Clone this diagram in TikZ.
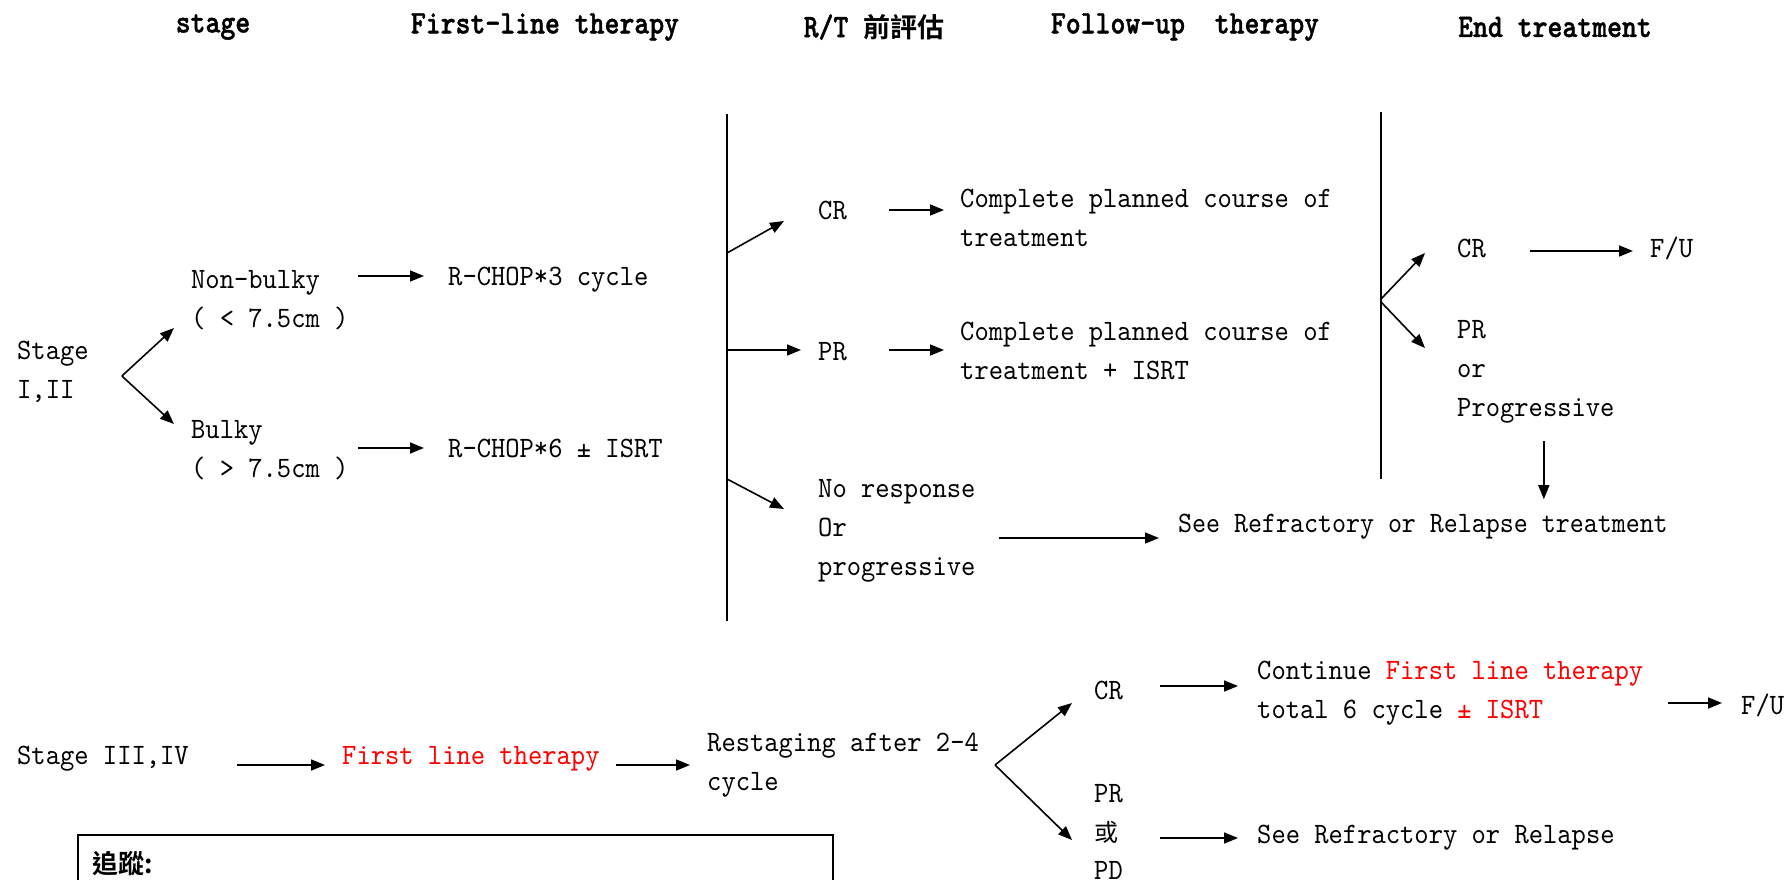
\documentclass[tikz,border=0pt]{standalone}
\usepackage{fontspec}
\usetikzlibrary{arrows.meta,calc}

% Typewriter faces for the flowchart text
\newfontfamily\bodyfont{lmmono10-regular.otf}[FakeStretch=0.92]
\newfontfamily\headfont{lmmonolt10-bold.otf}[FakeStretch=0.86,FakeBold=1.2]
\newfontfamily\cjkfont{Noto Sans CJK TC}[BoldFont={Noto Sans CJK TC Bold}]

\tikzset{
  txt/.style={anchor=west, inner sep=0pt, align=left,
              font=\bodyfont\fontsize{29.6}{38.7}\selectfont},
  head/.style={inner sep=0pt, font=\headfont\fontsize{33}{40}\selectfont},
  arr/.style={-{Triangle[length=14pt,width=11pt]}, line width=1.6pt},
  rule/.style={line width=2pt},
}

\begin{document}
\begin{tikzpicture}[x=1pt,y=-1pt]
\useasboundingbox (0,0) rectangle (1787,880);

% column headings
\node[head] (h1) at (213,27) {stage};
\node[head] (h2) at (545,27) {First-line therapy};
\node[head] (h3) at (874,27) {R/T {\cjkfont\bfseries\fontsize{27}{40}\selectfont 前評估}};
\node[head] (h4) at (1185,27) {Follow-up\ \ therapy};
\node[head] (h5) at (1555,27) {End treatment};

% ---- Stage I, II ----
\node[txt] (s12) at (17,372) {Stage\\I,II};
\node[txt] (nb)  at (191,300) {Non-bulky\\( < 7.5cm )};
\node[txt] (bk)  at (191,450) {Bulky\\( > 7.5cm )};
\node[txt] (rc3) at (448,280) {R-CHOP*3 cycle};
\node[txt] (rc6) at (448,448) {R-CHOP*6 ± ISRT};

\coordinate (b1) at ($(s12.east)+(33,4)$);
\draw[arr] (b1) -- ($(nb.west)+(-17,28)$);
\draw[arr] (b1) -- ($(bk.west)+(-17,-26)$);
\draw[arr] ($(nb.east|-rc3.west)+(9,-4)$) -- ($(rc3.west)+(-24,-4)$);
\draw[arr] ($(bk.east|-rc6.west)+(9,0)$) -- ($(rc6.west)+(-24,0)$);

% response assessment before R/T
\coordinate (v1t) at (727,114);
\coordinate (v1b) at (727,621);
\draw[rule] (v1t) -- (v1b);

\node[txt] (cr1) at (818,210) {CR};
\node[txt] (pr1) at (818,352) {PR};
\node[txt] (nr)  at (818,531) {No response\\Or\\progressive};
\node[txt] (c1)  at (960,218) {Complete planned course of\\treatment};
\node[txt] (c2)  at (960,351) {Complete planned course of\\treatment + ISRT};
\node[txt, font=\bodyfont\fontsize{29.6}{38.7}\selectfont\addfontfeatures{FakeStretch=0.9}]
     (see1) at (1178,527) {See Refractory or Relapse treatment};

\draw[arr] ($(v1t|-cr1.west)+(0,43)$) -- ($(cr1.west)+(-34,11)$);
\draw[arr] ($(v1t|-pr1.west)+(0,-2)$) -- ($(pr1.west)+(-17,-2)$);
\draw[arr] ($(v1t|-nr.west)+(0,-52)$) -- ($(nr.west)+(-34,-22)$);
\draw[arr] ($(cr1.east)+(42,0)$) -- ($(c1.west|-cr1.east)+(-16,0)$);
\draw[arr] ($(pr1.east)+(42,-2)$) -- ($(c2.west|-pr1.east)+(-16,-2)$);
\draw[arr] ($(nr.east)+(23,7)$) -- ($(see1.west|-nr.east)+(-19,7)$);

% end of treatment assessment
\coordinate (v2t) at (1381,112);
\coordinate (v2b) at (1381,479);
\draw[rule] (v2t) -- (v2b);

\node[txt] (cr2) at (1457,248) {CR};
\node[txt] (fu1) at (1650,248) {F/U};
\node[txt] (pr2) at (1457,372) {PR\\or\\Progressive};

\draw[arr] ($(v2t|-cr2.west)+(0,51)$) -- ($(cr2.west)+(-32,5)$);
\draw[arr] ($(v2t|-pr2.west)+(0,-70)$) -- ($(pr2.west)+(-32,-24)$);
\draw[arr] ($(cr2.east)+(44,3)$) -- ($(fu1.west)+(-17,3)$);
\coordinate (dd) at ($(pr2.south)+(8,18)$);
\draw[arr, shorten >=15pt] (dd) -- (dd|-see1.north);

% ---- Stage III, IV ----
\node[txt] (s34)  at (17,759) {Stage III,IV};
\node[txt, text=red] (flt) at (342,759) {First line therapy};
\node[txt] (rst)  at (707,765) {Restaging after 2-4\\cycle};
\node[txt] (cr3)  at (1094,690) {CR};
\node[txt] (cont) at (1257,693) {Continue \textcolor{red}{First line therapy}\\total 6 cycle \textcolor{red}{± ISRT}};
\node[txt] (fu2)  at (1741,705) {F/U};
\node[txt] (pr3)  at (1094,832) {PR\\{\cjkfont\fontsize{24}{38.7}\selectfont 或}\\PD};
\node[txt] (see2) at (1257,838) {See Refractory or Relapse};

\draw[arr] ($(s34.east)+(48,6)$) -- ($(flt.west)+(-17,6)$);
\draw[arr] ($(flt.east)+(16,6)$) -- ($(rst.west|-flt.east)+(-17,6)$);
\coordinate (b2) at ($(rst.east)+(16,0)$);
\draw[arr] (b2) -- ($(cr3.west)+(-22,13)$);
\draw[arr] (b2) -- ($(pr3.west)+(-22,8)$);
\draw[arr] ($(cr3.east)+(37,-4)$) -- ($(cont.west|-cr3.east)+(-19,-4)$);
\draw[arr] ($(cont.east)+(25,10)$) -- ($(fu2.west)+(-19,-2)$);
\draw[arr] ($(pr3.east|-see2.west)+(37,0)$) -- ($(see2.west)+(-19,0)$);

% follow-up note box
\draw[rule] (78,900) -- (78,835) -- (833,835) -- (833,900);
\node[anchor=west, inner sep=0pt, font=\cjkfont\bfseries\fontsize{26}{30}\selectfont] (note) at (92,864) {追蹤:};
\end{tikzpicture}
\end{document}
